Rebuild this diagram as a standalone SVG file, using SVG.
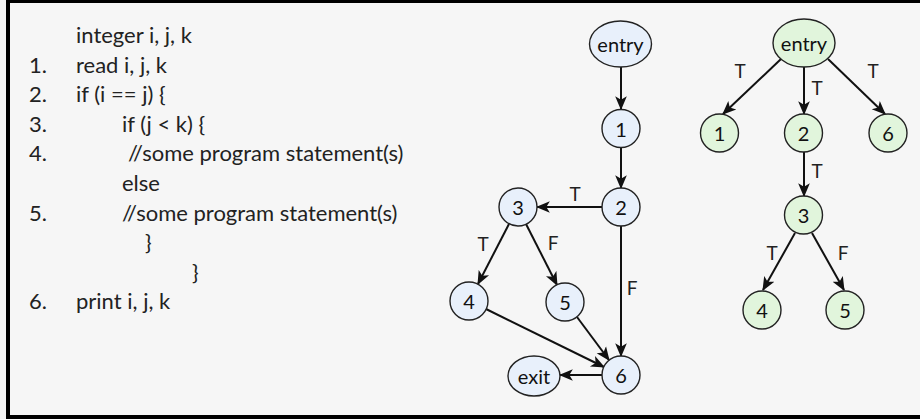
<svg xmlns="http://www.w3.org/2000/svg" width="920" height="419" viewBox="0 0 920 419">
<defs>
<style>
.code{font-family:Lato,"Open Sans","Liberation Sans",sans-serif;font-size:22px;fill:#222}
.nl{font-family:Lato,"Open Sans","Liberation Sans",sans-serif;font-size:20px;fill:#111;text-anchor:middle;dominant-baseline:central}
.lb{font-family:Lato,"Open Sans","Liberation Sans",sans-serif;font-size:19px;fill:#222;text-anchor:middle;dominant-baseline:central}
.cfg{fill:#e8f0fb;stroke:#222;stroke-width:1.4}
.tr{fill:#e1f5dc;stroke:#222;stroke-width:1.4}
.e{stroke:#111;stroke-width:2;fill:none;marker-end:url(#ah)}
</style>
<marker id="ah" markerUnits="userSpaceOnUse" markerWidth="14" markerHeight="14" viewBox="0 0 12 12" refX="11" refY="6" orient="auto">
<path d="M0,1 L12,6 L0,11 L3,6 z" fill="#111"/>
</marker>
</defs>
<rect x="0" y="0" width="920" height="419" fill="#f6f6f6"/>
<rect x="8" y="1" width="930" height="416" fill="none" stroke="#000" stroke-width="4"/>

<g id="code">
<text class="code" x="76" y="43">integer i, j, k</text>
<text class="code" x="29" y="72.6">1.</text><text class="code" x="76" y="72.6">read i, j, k</text>
<text class="code" x="29" y="102.2">2.</text><text class="code" x="76" y="102.2">if (i == j) {</text>
<text class="code" x="29" y="131.8">3.</text><text class="code" x="122" y="131.8">if (j &lt; k) {</text>
<text class="code" x="29" y="161.4">4.</text><text class="code" x="128" y="161.4">//some program statement(s)</text>
<text class="code" x="122" y="191">else</text>
<text class="code" x="29" y="220.6">5.</text><text class="code" x="122" y="220.6">//some program statement(s)</text>
<text class="code" x="145" y="250.2">}</text>
<text class="code" x="192" y="279.8">}</text>
<text class="code" x="29" y="309.4">6.</text><text class="code" x="76" y="309.4">print i, j, k</text>
</g>

<g id="connectors">
<line class="e" x1="621" y1="67" x2="621" y2="109"/>
<line class="e" x1="621" y1="148" x2="621" y2="188"/>
<line class="e" x1="602" y1="207" x2="537" y2="207"/>
<line class="e" x1="509" y1="224" x2="478" y2="284"/>
<line class="e" x1="526" y1="224" x2="557" y2="285"/>
<line class="e" x1="621" y1="226" x2="621" y2="356"/>
<line class="e" x1="486" y1="309" x2="604" y2="367"/>
<line class="e" x1="577" y1="317" x2="609" y2="360"/>
<line class="e" x1="602" y1="375" x2="560" y2="375"/>

<line class="e" x1="781" y1="59" x2="723" y2="114"/>
<line class="e" x1="804" y1="67" x2="804" y2="114"/>
<line class="e" x1="828" y1="59" x2="885" y2="114"/>
<line class="e" x1="804" y1="152" x2="804" y2="196"/>
<line class="e" x1="795" y1="233" x2="763" y2="290"/>
<line class="e" x1="812" y1="233" x2="844" y2="290"/>
</g>

<g id="labels">
<text class="lb" x="575" y="193">T</text>
<text class="lb" x="483" y="243">T</text>
<text class="lb" x="553" y="242">F</text>
<text class="lb" x="632" y="287">F</text>
<text class="lb" x="740" y="70">T</text>
<text class="lb" x="817" y="87">T</text>
<text class="lb" x="873" y="70">T</text>
<text class="lb" x="817" y="170">T</text>
<text class="lb" x="772" y="252">T</text>
<text class="lb" x="843" y="252">F</text>
</g>

<g id="cfg-entry"><ellipse class="cfg" cx="620.5" cy="44" rx="31" ry="23"/><text class="nl" x="620.5" y="44">entry</text></g>
<g id="cfg-1"><circle class="cfg" cx="621" cy="128.5" r="19"/><text class="nl" x="621" y="128.5">1</text></g>
<g id="cfg-2"><circle class="cfg" cx="621" cy="207" r="19"/><text class="nl" x="621" y="207">2</text></g>
<g id="cfg-3"><circle class="cfg" cx="518" cy="207" r="19"/><text class="nl" x="518" y="207">3</text></g>
<g id="cfg-4"><circle class="cfg" cx="469" cy="301" r="19"/><text class="nl" x="469" y="301">4</text></g>
<g id="cfg-5"><circle class="cfg" cx="565" cy="302" r="19"/><text class="nl" x="565" y="302">5</text></g>
<g id="cfg-6"><circle class="cfg" cx="621" cy="375" r="19"/><text class="nl" x="621" y="375">6</text></g>
<g id="cfg-exit"><ellipse class="cfg" cx="534" cy="376" rx="26" ry="20"/><text class="nl" x="534" y="376">exit</text></g>

<g id="tree-entry"><ellipse class="tr" cx="804" cy="43" rx="31" ry="24"/><text class="nl" x="804" y="43">entry</text></g>
<g id="tree-1"><circle class="tr" cx="719.5" cy="133" r="19"/><text class="nl" x="719.5" y="133">1</text></g>
<g id="tree-2"><circle class="tr" cx="803.5" cy="133" r="19"/><text class="nl" x="803.5" y="133">2</text></g>
<g id="tree-6"><circle class="tr" cx="888" cy="133" r="19"/><text class="nl" x="888" y="133">6</text></g>
<g id="tree-3"><circle class="tr" cx="803.5" cy="215" r="19"/><text class="nl" x="803.5" y="215">3</text></g>
<g id="tree-4"><circle class="tr" cx="762" cy="310" r="19"/><text class="nl" x="762" y="310">4</text></g>
<g id="tree-5"><circle class="tr" cx="845" cy="310" r="19"/><text class="nl" x="845" y="310">5</text></g>
</svg>
